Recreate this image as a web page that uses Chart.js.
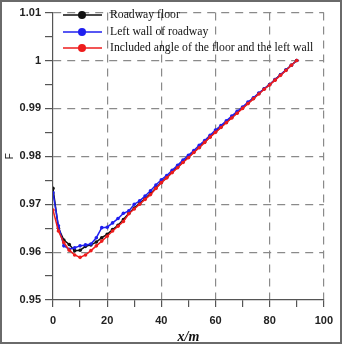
<!DOCTYPE html>
<html>
<head>
<meta charset="utf-8">
<script src="https://cdn.jsdelivr.net/npm/chart.js@4.4.1/dist/chart.umd.min.js"></script>
<style>
  html, body { margin: 0; padding: 0; background: #fff; }
  #wrap { width: 342px; height: 344px; box-sizing: border-box; border: 2px solid #6a6a6a; background: #fff; }
</style>
</head>
<body>
<div id="wrap"><canvas id="lineChart" width="338" height="340"></canvas></div>
<script>
// distance along the roadway (m)
var xs = [0, 2, 4, 6, 8, 10, 12, 14, 16, 18, 20, 22, 24, 26, 28, 30, 32, 34, 36, 38,
          40, 42, 44, 46, 48, 50, 52, 54, 56, 58, 60, 62, 64, 66, 68, 70, 72, 74, 76, 78,
          80, 82, 84, 86, 88, 90];

var seriesNames = ['Roadway floor', 'Left wall of roadway', 'Included angle of the floor and the left wall'];

var floorVals = [0.9733, 0.9650, 0.9625, 0.9616, 0.9603, 0.9604, 0.9612, 0.9615, 0.9621, 0.9630,
                 0.9637, 0.9647, 0.9656, 0.9668, 0.9681, 0.9692, 0.9702, 0.9712, 0.9722, 0.9734,
                 0.9746, 0.9756, 0.9767, 0.9777, 0.9788, 0.9798, 0.9809, 0.9819, 0.9830, 0.9841,
                 0.9851, 0.9861, 0.9871, 0.9881, 0.9891, 0.9901, 0.9911, 0.9921, 0.9931, 0.9941,
                 0.9950, 0.9960, 0.9970, 0.9980, 0.9990, 1.0000];

var wallVals = [0.9724, 0.9655, 0.9613, 0.9606, 0.9609, 0.9613, 0.9615, 0.9617, 0.9630, 0.9651,
                0.9652, 0.9661, 0.9670, 0.9681, 0.9686, 0.9700, 0.9707, 0.9717, 0.9728, 0.9740,
                0.9751, 0.9760, 0.9771, 0.9781, 0.9792, 0.9802, 0.9812, 0.9823, 0.9833, 0.9844,
                0.9855, 0.9864, 0.9874, 0.9884, 0.9894, 0.9903, 0.9913, 0.9922, 0.9932, 0.9941,
                0.9950, 0.9960, 0.9970, 0.9980, 0.9990, 1.0000];

var angleVals = [0.9688, 0.9644, 0.9620, 0.9604, 0.9594, 0.9589, 0.9594, 0.9603, 0.9613, 0.9623,
                 0.9633, 0.9644, 0.9654, 0.9664, 0.9680, 0.9690, 0.9700, 0.9710, 0.9720, 0.9733,
                 0.9745, 0.9755, 0.9766, 0.9776, 0.9787, 0.9797, 0.9808, 0.9818, 0.9829, 0.9840,
                 0.9850, 0.9860, 0.9870, 0.9880, 0.9890, 0.9900, 0.9910, 0.9920, 0.9930, 0.9940,
                 0.9949, 0.9959, 0.9969, 0.9979, 0.9990, 1.0000];

var yTickLabels = ['0.95', '0.96', '0.97', '0.98', '0.99', '1', '1.01'];
var xTickLabels = ['0', '20', '40', '60', '80', '100'];

function pts(vals) {
    return xs.map(function (x, i) { return { x: x, y: vals[i] }; });
}

var colors = ['#111111', '#1f1fef', '#ee1c1c'];

// legend drawn inside the plot, like the original figure
var insideLegend = {
    id: 'insideLegend',
    afterDraw: function (chart) {
        var ctx = chart.ctx;
        var ys = [13, 30, 46];
        ctx.save();
        ctx.font = '11.7px "Liberation Serif", "Times New Roman", serif';
        ctx.textBaseline = 'middle';
        for (var i = 0; i < seriesNames.length; i++) {
            ctx.strokeStyle = colors[i];
            ctx.lineWidth = 1.5;
            ctx.beginPath();
            ctx.moveTo(61, ys[i]);
            ctx.lineTo(100, ys[i]);
            ctx.stroke();
            ctx.fillStyle = colors[i];
            ctx.beginPath();
            ctx.arc(80, ys[i], 4, 0, Math.PI * 2);
            ctx.fill();
            ctx.fillStyle = '#111';
            ctx.fillText(seriesNames[i], 108, ys[i]);
        }
        ctx.restore();
    }
};

function isMajor(v, step) {
    return Math.abs(v / step - Math.round(v / step)) < 1e-6;
}

var ctx = document.getElementById('lineChart').getContext('2d');
var lineChart = new Chart(ctx, {
    type: 'line',
    data: {
        datasets: [{
            label: seriesNames[0],
            data: pts(floorVals),
            borderColor: colors[0],
            backgroundColor: colors[0],
            order: 2
        }, {
            label: seriesNames[1],
            data: pts(wallVals),
            borderColor: colors[1],
            backgroundColor: colors[1],
            order: 1
        }, {
            label: seriesNames[2],
            data: pts(angleVals),
            borderColor: colors[2],
            backgroundColor: colors[2],
            order: 0
        }]
    },
    options: {
        responsive: false,
        animation: false,
        events: [],
        layout: { padding: { top: 6, right: 10, left: 0, bottom: 0 } },
        elements: {
            line: { borderWidth: 1.5, tension: 0 },
            point: { radius: 1.8, borderWidth: 0 }
        },
        plugins: {
            legend: { display: false },
            tooltip: { enabled: false }
        },
        scales: {
            x: {
                type: 'linear',
                min: 0,
                max: 100,
                afterFit: function (s) { s.height = 42; },
                ticks: {
                    stepSize: 10,
                    padding: 7,
                    color: '#222',
                    font: { family: '"Liberation Sans", Arial, sans-serif', size: 11, weight: 'bold' },
                    callback: function (v) {
                        return isMajor(v, 20) ? xTickLabels[Math.round(v / 20)] : '';
                    }
                },
                grid: {
                    color: function (c) {
                        return (c.tick && isMajor(c.tick.value, 20) && c.tick.value > 0) ? '#8a8a8a' : 'rgba(0,0,0,0)';
                    },
                    tickColor: '#555',
                    tickLength: 7,
                    lineWidth: 1.2
                },
                border: { display: true, color: '#555', width: 1.2, dash: [8, 6] },
                title: {
                    display: true,
                    text: 'x/m',
                    color: '#111',
                    padding: { top: 0, bottom: -2 },
                    font: { family: '"Liberation Serif", "Times New Roman", serif', size: 14, weight: 'bold', style: 'italic', lineHeight: 1 }
                }
            },
            y: {
                min: 0.95,
                max: 1.01,
                afterFit: function (s) { s.width = 51; },
                ticks: {
                    stepSize: 0.005,
                    padding: 4,
                    color: '#222',
                    font: { family: '"Liberation Sans", Arial, sans-serif', size: 11, weight: 'bold' },
                    callback: function (v) {
                        if (!isMajor(v, 0.01)) return '';
                        return yTickLabels[Math.round((v - 0.95) / 0.01)];
                    }
                },
                grid: {
                    color: function (c) {
                        return (c.tick && isMajor(c.tick.value, 0.01) && c.tick.value > 0.951) ? '#8a8a8a' : 'rgba(0,0,0,0)';
                    },
                    tickColor: '#555',
                    tickLength: 8,
                    lineWidth: 1.2
                },
                border: { display: true, color: '#555', width: 1.2, dash: [8, 6] },
                title: {
                    display: true,
                    text: 'F',
                    color: '#222',
                    padding: { top: 2, bottom: 0 },
                    font: { family: '"Liberation Sans", Arial, sans-serif', size: 10 }
                }
            }
        }
    },
    plugins: [insideLegend]
});
</script>
</body>
</html>
